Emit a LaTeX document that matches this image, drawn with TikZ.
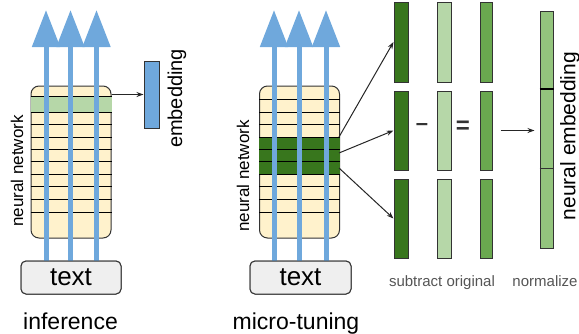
\documentclass[tikz,border=0pt]{standalone}
\usepackage{fontspec}
\setmainfont{Liberation Sans}
\usetikzlibrary{arrows.meta}
\definecolor{nnfill}{HTML}{FFF2CC}
\definecolor{lightgreen}{HTML}{B6D7A8}
\definecolor{darkgreen}{HTML}{38761D}
\definecolor{midgreen}{HTML}{6AA84F}
\definecolor{normgreen}{HTML}{93C47D}
\definecolor{blueA}{HTML}{6FA8DC}
\definecolor{edge}{HTML}{333333}
\definecolor{boxgray}{HTML}{EFEFEF}
\definecolor{labgray}{HTML}{555555}
\tikzset{
  nnbox/.style={draw=edge, line width=1pt, fill=nnfill, rounded corners=8pt, minimum width=80pt, minimum height=152pt, inner sep=0pt},
  layerline/.style={draw=black, line width=1pt},
  bluearrow/.style={draw=blueA, line width=5pt, -{Triangle[length=37pt,width=27pt]}},
  textbox/.style={draw=edge, line width=1pt, fill=boxgray, rounded corners=5pt, minimum height=33pt, inner sep=0pt, font=\fontsize{26}{28}\selectfont},
  vecbox/.style={draw=edge, line width=1pt, inner sep=0pt},
  arr/.style={draw=black!85, line width=1pt, -{Stealth[length=7pt,width=5pt]}},
  caption/.style={font=\fontsize{23}{26}\selectfont, anchor=base},
  sidelabel/.style={font=\fontsize{17}{19}\selectfont, rotate=90},
  smalllabel/.style={font=\fontsize{15}{17}\selectfont, text=labgray, anchor=base}
}
\begin{document}
\begin{tikzpicture}[x=1pt,y=-1pt]
\useasboundingbox (0,0) rectangle (579,333);

% ---------- inference ----------
\node[nnbox] (nn1) at (71,162) {};
\fill[lightgreen] (nn1.west |- 0,96) rectangle (nn1.east |- 0,112);
\foreach \y in {96,112,124.5,137,149,161.5,174,186.5,199,212}
  \draw[layerline] (nn1.west |- 0,\y) -- (nn1.east |- 0,\y);
\node[textbox, minimum width=100pt] (tb1) at (71,277.5) {text};
\foreach \x in {46,70.5,96.5}
  \draw[bluearrow] (tb1.north -| \x,0) -- (\x,10);
\node[textbox, minimum width=100pt] at (tb1) {text};
\node[sidelabel] (nnl1) at (17,171) {neural network};
\node[vecbox, fill=blueA, minimum width=15pt, minimum height=67pt] (emb) at (151.5,94.5) {};
\draw[arr] (nn1.east |- emb.west) -- (emb.west);
\node[sidelabel, font=\fontsize{20}{22}\selectfont] (embl) at (177,98.5) {embedding};
\node[caption] (cap1) at (70.5,329) {inference};

% ---------- micro-tuning ----------
\node[nnbox] (nn2) at (299.5,162) {};
\fill[darkgreen] (nn2.west |- 0,137) rectangle (nn2.east |- 0,174);
\foreach \y in {99,112,124.5,137,149,161.5,174,186.5,199,212}
  \draw[layerline] (nn2.west |- 0,\y) -- (nn2.east |- 0,\y);
\node[textbox, minimum width=101pt] (tb2) at (300.5,277.5) {text};
\foreach \x in {274,299,326}
  \draw[bluearrow] (tb2.north -| \x,0) -- (\x,10);
\node[textbox, minimum width=101pt] at (tb2) {text};
\node[sidelabel] (nnl2) at (243,176) {neural network};
\node[caption] (cap2) at (296,329) {micro-tuning};

% vectors
\foreach \r/\y/\h in {1/42/80,2/130.5/79,3/218.5/79}{
  \node[vecbox, fill=darkgreen, minimum width=14pt, minimum height=\h pt] (a\r) at (401,\y) {};
  \node[vecbox, fill=lightgreen, minimum width=14pt, minimum height=\h pt] (b\r) at (444,\y) {};
  \node[vecbox, fill=midgreen, minimum width=12pt, minimum height=\h pt] (c\r) at (486,\y) {};
}
\coordinate (s1) at (339,137);
\coordinate (s2) at (339,153);
\coordinate (s3) at (339,168);
\draw[arr] (s1) -- (a1.west);
\draw[arr] (s2) -- (a2.west);
\draw[arr] (s3) -- (a3.west);
\node[font=\fontsize{22}{24}\selectfont\bfseries, text=edge] (minus) at (422,127) {–};
\node[font=\fontsize{24}{26}\selectfont\bfseries, text=edge] (equals) at (463,127.5) {=};

\node[vecbox, fill=normgreen, minimum width=13pt, minimum height=237pt] (norm) at (546.5,129.5) {};
\draw[black, line width=2pt] (norm.west |- 0,89) -- (norm.east |- 0,89);
\draw[edge, line width=1pt] (norm.west |- 0,168) -- (norm.east |- 0,168);
\draw[arr, shorten <=8pt, shorten >=5pt] (c2.east) -- (norm.west |- c2.east);
\node[sidelabel, font=\fontsize{21}{23}\selectfont] (nel) at (570,136) {neural embedding};

\node[smalllabel] (sub) at (442,286) {subtract original};
\node[smalllabel] (nrm) at (545,286) {normalize};
\end{tikzpicture}
\end{document}
